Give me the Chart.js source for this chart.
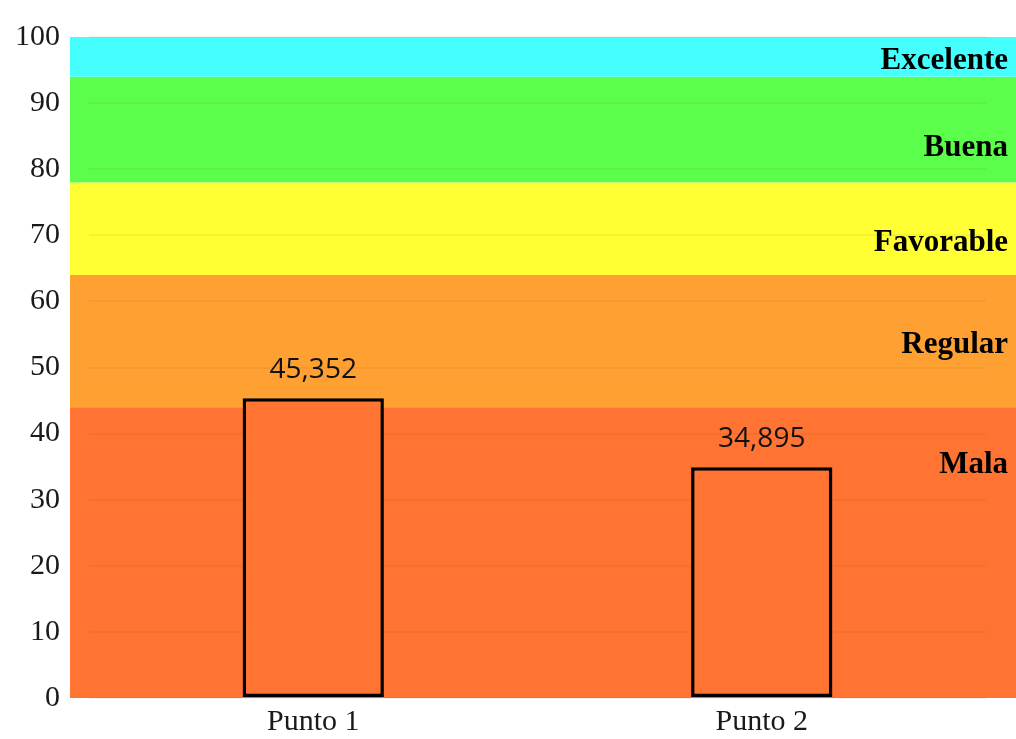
<!DOCTYPE html>
<html>
<head>
<meta charset="utf-8">
<script src="https://cdn.jsdelivr.net/npm/chart.js@4"></script>
<style>
  html, body { margin: 0; padding: 0; background: #ffffff; }
  #wrap { width: 1016px; height: 739px; position: relative; }
</style>
</head>
<body>
<div id="wrap"><canvas id="c"></canvas></div>
<script>
// Sampling points and measured index values
const categories = ['Punto 1', 'Punto 2'];
const values = [45.352, 34.895];

// Quality classes: lower/upper limits of each band, its label and colour
const bandNames  = ['Mala', 'Regular', 'Favorable', 'Buena', 'Excelente'];
const bandLower  = [0, 44, 64, 78, 94];
const bandUpper  = [44, 64, 78, 94, 100];
const bandLabelAt = [35.2, 53.4, 68.9, 83.2, 96.4];
const bandColors = ['#FF7433', '#FFA033', '#FFFF33', '#5BFF4B', '#45FFFF'];

const yTicks = [0, 10, 20, 30, 40, 50, 60, 70, 80, 90, 100];

const bandsPlugin = {
  id: 'bands',
  beforeDraw(chart) {
    const { ctx, scales: { y } } = chart;
    const left = chart.chartArea.left - 19;
    const right = chart.width;
    ctx.save();
    bandNames.forEach((name, i) => {
      const top = y.getPixelForValue(bandUpper[i]);
      const bot = y.getPixelForValue(bandLower[i]);
      ctx.fillStyle = bandColors[i];
      ctx.fillRect(left, top, right - left, bot - top);
    });
    ctx.restore();
  },
  afterDraw(chart) {
    const { ctx, scales: { y } } = chart;
    ctx.save();
    ctx.font = 'bold 31px "Liberation Serif", "Times New Roman", serif';
    ctx.fillStyle = '#000000';
    ctx.textAlign = 'right';
    ctx.textBaseline = 'middle';
    bandNames.forEach((name, i) => {
      ctx.fillText(name, chart.width - 8, y.getPixelForValue(bandLabelAt[i]));
    });
    ctx.restore();
  }
};

const valueLabels = {
  id: 'valueLabels',
  afterDatasetsDraw(chart) {
    const { ctx } = chart;
    const meta = chart.getDatasetMeta(0);
    ctx.save();
    ctx.font = '28px "Open Sans", "Noto Sans", sans-serif';
    ctx.fillStyle = '#111111';
    ctx.textAlign = 'center';
    ctx.textBaseline = 'middle';
    meta.data.forEach((bar, i) => {
      const txt = values[i].toFixed(3).replace('.', ',');
      ctx.fillText(txt, bar.x, bar.y - 28);
    });
    ctx.restore();
  }
};

new Chart(document.getElementById('c'), {
  type: 'bar',
  data: {
    labels: categories,
    datasets: [{
      data: values,
      backgroundColor: bandColors[0],
      borderColor: '#000000',
      borderWidth: 3.5,
      borderSkipped: false,
      barPercentage: 0.315,
      categoryPercentage: 1.0
    }]
  },
  options: {
    responsive: true,
    maintainAspectRatio: false,
    animation: false,
    layout: { padding: { top: 37, right: 30, bottom: 0, left: 0 } },
    plugins: {
      legend: { display: false },
      tooltip: { enabled: false }
    },
    scales: {
      x: {
        grid: { display: false, drawTicks: false },
        border: { display: false },
        ticks: {
          color: '#1a1a1a',
          padding: 6,
          font: { family: '"Liberation Serif", "Times New Roman", serif', size: 30 }
        },
        afterFit(scale) { scale.height = 41; scale.paddingLeft = 0; scale.paddingRight = 0; }
      },
      y: {
        min: 0,
        max: 100,
        afterBuildTicks(scale) { scale.ticks = yTicks.map(v => ({ value: v })); },
        grid: { color: 'rgba(120,40,0,0.06)', lineWidth: 2, drawTicks: false },
        border: { display: false },
        ticks: {
          color: '#1a1a1a',
          padding: 29,
          font: { family: '"Liberation Serif", "Times New Roman", serif', size: 30 }
        },
        afterFit(scale) { scale.width = 89; scale.paddingTop = 0; scale.paddingBottom = 0; }
      }
    }
  },
  plugins: [bandsPlugin, valueLabels]
});
</script>
</body>
</html>
